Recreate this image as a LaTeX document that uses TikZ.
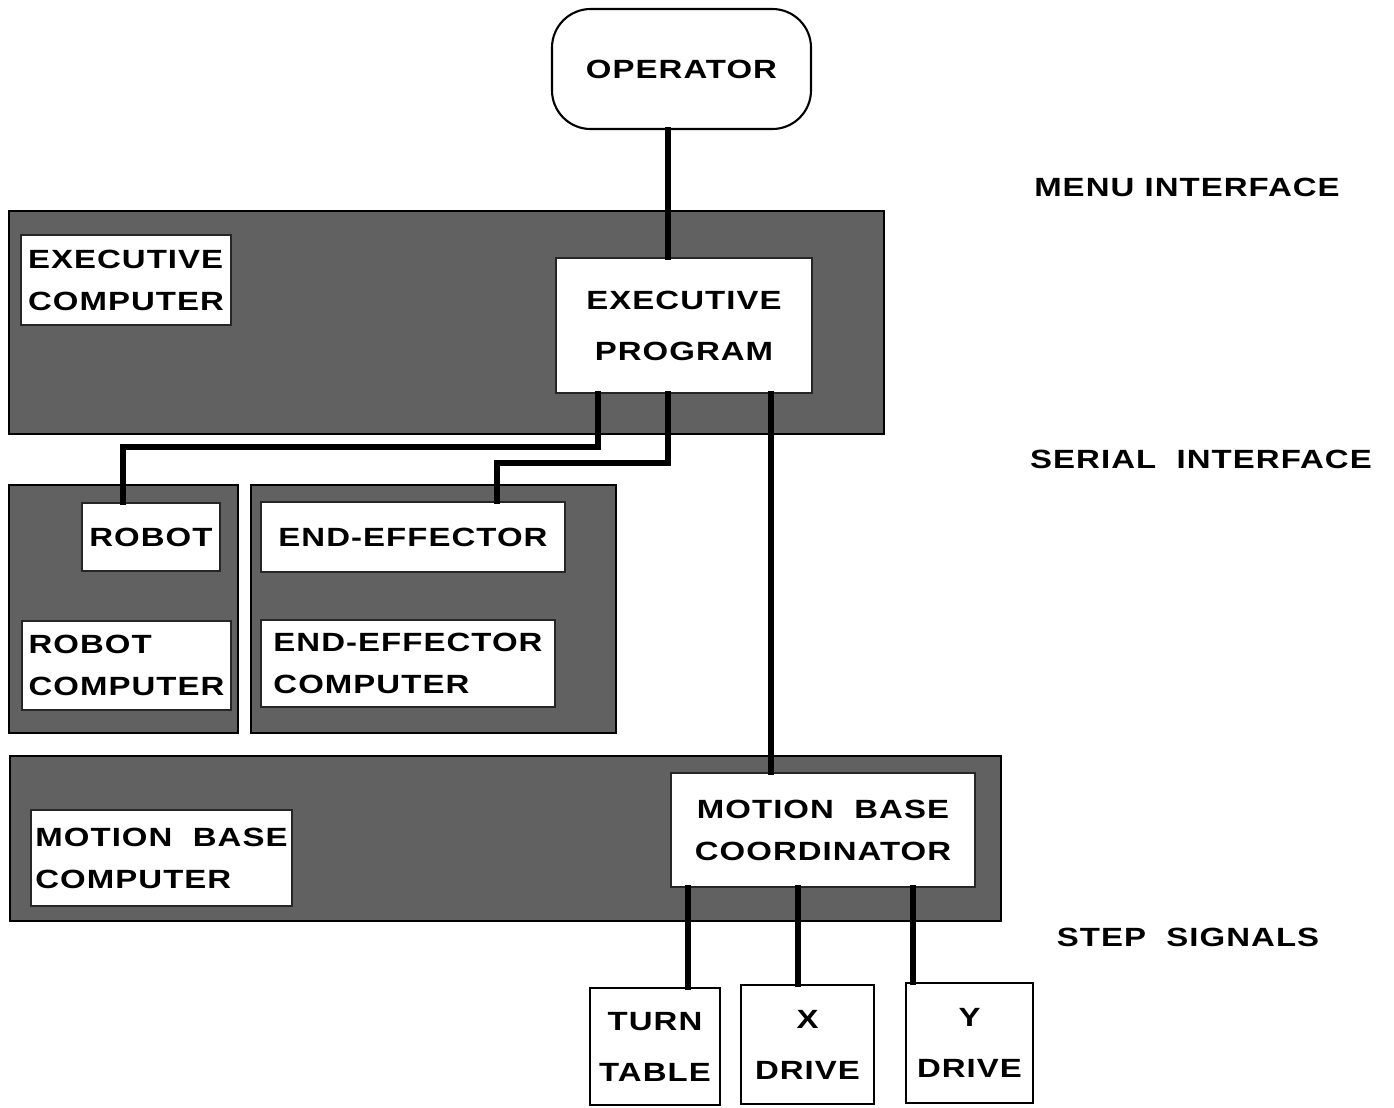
\documentclass[tikz,border=0pt]{standalone}
\usepackage{fontspec}
\newfontfamily\diagfont[FakeStretch=1.25,LetterSpace=4]{Liberation Sans}

\tikzset{
  dims/.style 2 args={minimum width=#1*0.02cm, minimum height=#2*0.02cm},
  panel/.style={draw=black, line width=1.6pt, fill=black!62, inner sep=0pt},
  wbox/.style={fill=white, draw=black!85, line width=0.8pt, inner sep=0pt, align=left,
    font=\diagfont\bfseries\fontsize{15}{24}\selectfont},
  tallbox/.style={wbox, align=center, font=\diagfont\bfseries\fontsize{15}{29}\selectfont},
  drivebox/.style={tallbox, draw=black, line width=1.4pt},
  opbox/.style={wbox, draw=black, line width=1.2pt, rounded corners=22pt},
  tag/.style={font=\diagfont\bfseries\fontsize{15}{24}\selectfont},
  link/.style={line width=3.4pt, line cap=rect}
}

\begin{document}
\begin{tikzpicture}[x=0.02cm, y=-0.02cm]
    \useasboundingbox (0,0) rectangle (1394,1107);
    % Panels
    \node[panel, dims={875}{223}] (execpanel) at (446.5,322.5) {};
    \node[panel, dims={229}{248}] (robpanel) at (123.5,609) {};
    \node[panel, dims={365}{248}] (eepanel) at (433.5,609) {};
    \node[panel, dims={991}{165}] (mbpanel) at (505.5,838.5) {};
    % Taps
    \coordinate (tapR) at (598,0);
    \coordinate (tapE) at (668,0);
    \coordinate (tapM) at (771,0);
    \coordinate (busR) at (0,447);
    \coordinate (busE) at (0,463);
    \coordinate (robx) at (123,0);
    \coordinate (eex) at (497,0);
    \coordinate (s1) at (688,0);
    \coordinate (s2) at (798,0);
    \coordinate (s3) at (913,0);
    % Boxes
    \node[opbox, dims={259}{120}] (oper) at (681.5,69) {OPERATOR};
    \node[wbox, dims={210}{90}] (execcomp) at (126,280) {EXECUTIVE\\COMPUTER};
    \node[tallbox, dims={256}{135}] (execprog) at (684,325.5) {EXECUTIVE\\PROGRAM};
    \node[wbox, dims={138}{68}] (robot) at (151,537) {ROBOT};
    \node[wbox, dims={209}{89}] (robcomp) at (126.5,665.5) {ROBOT\\COMPUTER};
    \node[wbox, dims={304}{70}] (ee) at (413,537) {END-EFFECTOR};
    \node[wbox, dims={294}{87}] (eecomp) at (408,663.5) {END-EFFECTOR\\COMPUTER};
    \node[wbox, dims={261}{96}] (mbcomp) at (161.5,858) {MOTION\ \ BASE\\COMPUTER};
    \node[wbox, align=center, dims={304}{114}] (mbcoord) at (823,830) {MOTION\ \ BASE\\COORDINATOR};
    \node[drivebox, dims={130}{117}] (turn) at (655,1046.5) {TURN\\TABLE};
    \node[drivebox, dims={133}{119}] (xdrive) at (807.5,1044.5) {X\\DRIVE};
    \node[drivebox, dims={127}{120}] (ydrive) at (969.5,1043) {Y\\DRIVE};
    % Connectors
    \draw[link] (oper.south -| tapE) -- (execprog.north -| tapE);
    \draw[link] (execprog.south -| tapR) |- (busR -| robx) -- (robot.north -| robx);
    \draw[link] (execprog.south -| tapE) |- (busE -| eex) -- (ee.north -| eex);
    \draw[link] (execprog.south -| tapM) -- (mbcoord.north -| tapM);
    \draw[link] (mbcoord.south -| s1) -- (turn.north -| s1);
    \draw[link] (mbcoord.south -| s2) -- (xdrive.north -| s2);
    \draw[link] (mbcoord.south -| s3) -- (ydrive.north -| s3);
    % Interface labels
    \node[tag] (menu) at (1187,187) {MENU\ INTERFACE};
    \node[tag] (serial) at (1201,459) {SERIAL\ \ INTERFACE};
    \node[tag] (step) at (1188,937) {STEP\ \ SIGNALS};
\end{tikzpicture}
\end{document}
